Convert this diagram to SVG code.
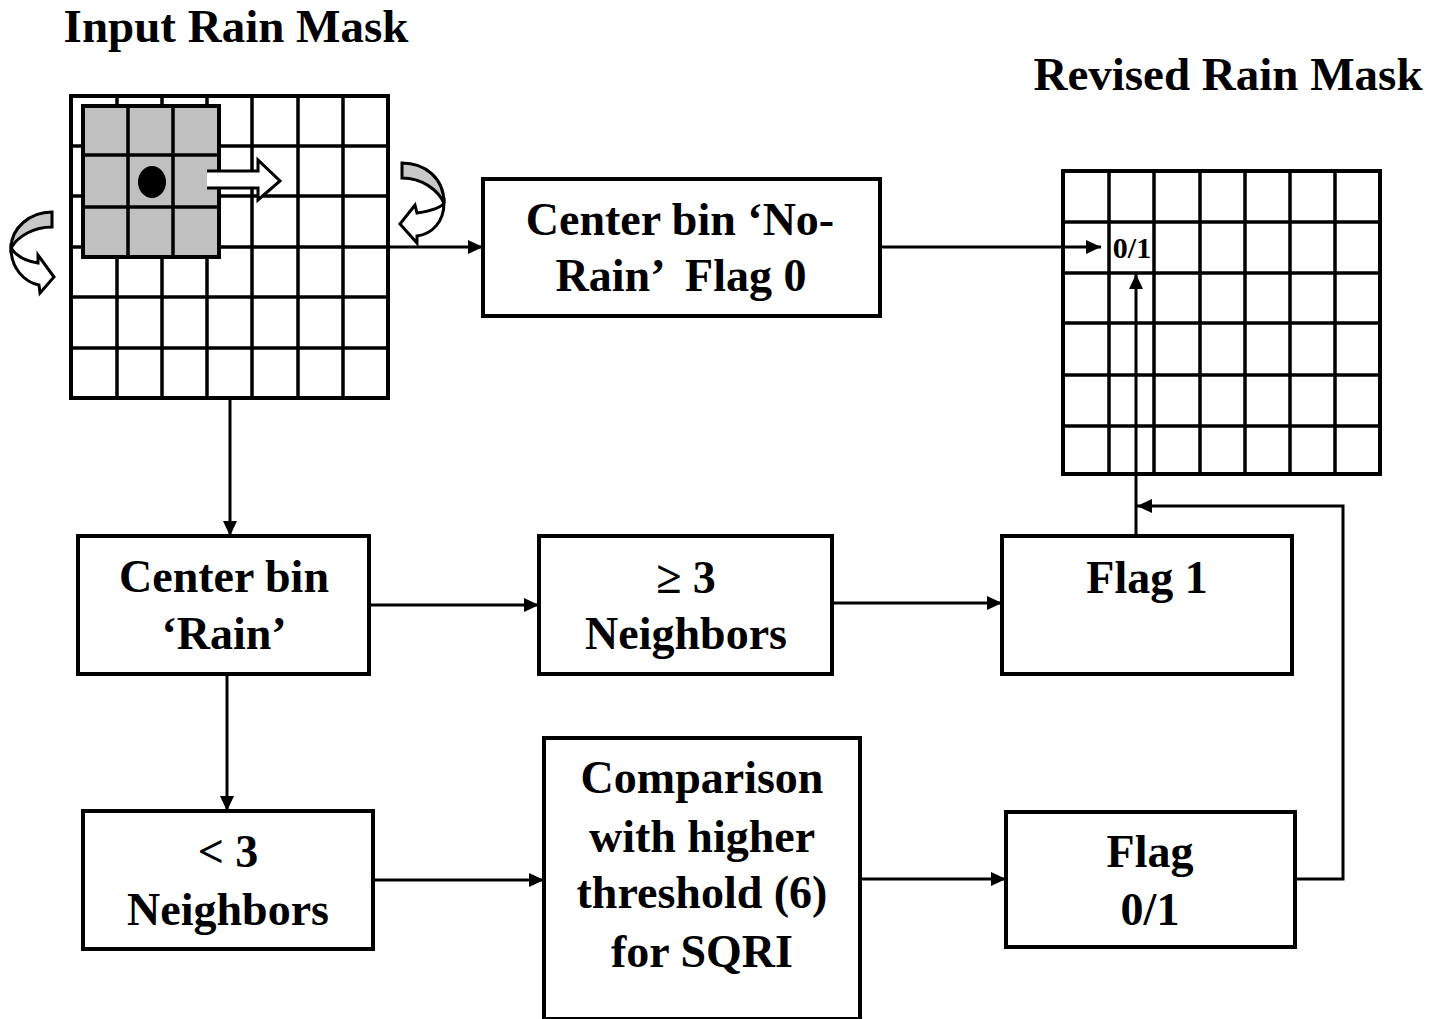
<svg xmlns="http://www.w3.org/2000/svg" width="1439" height="1019" viewBox="0 0 1439 1019">
  <defs>
    <style>
      .lbl { font-family: "Liberation Serif", "Times New Roman", serif; font-weight: bold; font-size: 46px; text-anchor: middle; fill: #000; white-space: pre; }
      .title { font-size: 47px; }
      .box { fill: #fff; stroke: #000; stroke-width: 4; }
      .grid { stroke: #000; stroke-width: 3.5; fill: none; }
      .frame { fill: #fff; stroke: #000; stroke-width: 4; }
      .wire { fill: none; stroke: #000; stroke-width: 3; }
      .curl { stroke: #000; stroke-width: 3; stroke-linejoin: miter; }
    </style>
    <marker id="ah" markerUnits="userSpaceOnUse" markerWidth="16" markerHeight="14" refX="15" refY="7" orient="auto">
      <path d="M0,0 L15,7 L0,14 Z" fill="#000"/>
    </marker>
  </defs>

  <rect width="1439" height="1019" fill="#fff"/>

  <!-- titles -->
  <text class="lbl title" x="236" y="42">Input Rain Mask</text>
  <text class="lbl title" x="1228" y="90">Revised Rain Mask</text>

  <!-- input mask: 7x6 grid with sliding 3x3 window -->
  <g id="input-mask">
    <rect class="frame" x="71" y="96" width="317" height="302"/>
    <path class="grid" d="M117,96V398 M162,96V398 M207,96V398 M252,96V398 M298,96V398 M343,96V398
                          M71,146H388 M71,196H388 M71,247H388 M71,297H388 M71,348H388"/>
    <rect x="83" y="106" width="136" height="151" fill="#c0c0c0" stroke="#000" stroke-width="4"/>
    <path class="grid" d="M128,106V257 M173,106V257 M83,155H219 M83,207H219"/>
    <ellipse cx="152" cy="182" rx="14" ry="16" fill="#000"/>
    <!-- block arrow: window moves right -->
    <path d="M207,171 L258,171 L258,160 L280,181 L258,200 L258,188 L207,188 Z" fill="#fff"/>
    <path d="M207,171 L258,171 L258,160 L280,181 L258,200 L258,188 L207,188" fill="none" stroke="#000" stroke-width="3"/>
    <!-- curled arrow, right side -->
    <path class="curl" fill="#fff" d="M444,203 C444,222 432,234 417,236 L417,243 L400,224 L415,205 L417,213 C430,211 441,208 444,203 Z"/>
    <path class="curl" fill="#c8c8c8" d="M402,163 C425,163 444,178 444,203 C438,190 422,178 402,178 Z"/>
    <!-- curled arrow, left side -->
    <path class="curl" fill="#fff" d="M11,248 C11,268 24,282 39,285 L40,293 L54,277 L38,255 L38,263 C26,261 16,256 11,248 Z"/>
    <path class="curl" fill="#c8c8c8" d="M52,212 C30,212 11,228 11,248 C18,236 34,227 52,227 Z"/>
  </g>

  <!-- revised mask: 7x6 grid -->
  <g id="revised-mask">
    <rect class="frame" x="1063" y="171" width="317" height="303"/>
    <path class="grid" d="M1109,171V474 M1154,171V474 M1200,171V474 M1245,171V474 M1290,171V474 M1335,171V474
                          M1063,222H1380 M1063,273H1380 M1063,323H1380 M1063,375H1380 M1063,426H1380"/>
    <text class="lbl" x="1132" y="258" style="font-size:30px">0/1</text>
  </g>

  <!-- process boxes -->
  <g id="no-rain">
    <rect class="box" x="483" y="179" width="397" height="137"/>
    <text class="lbl" x="680" y="235">Center bin ‘No-</text>
    <text class="lbl" x="681" y="291">Rain’  Flag 0</text>
  </g>
  <g id="rain">
    <rect class="box" x="78" y="536" width="291" height="138"/>
    <text class="lbl" x="224" y="592">Center bin</text>
    <text class="lbl" x="224" y="649">‘Rain’</text>
  </g>
  <g id="ge3">
    <rect class="box" x="539" y="536" width="293" height="138"/>
    <text class="lbl" x="686" y="593">≥ 3</text>
    <text class="lbl" x="686" y="649">Neighbors</text>
  </g>
  <g id="flag1">
    <rect class="box" x="1002" y="536" width="290" height="138"/>
    <text class="lbl" x="1147" y="593">Flag 1</text>
  </g>
  <g id="lt3">
    <rect class="box" x="83" y="811" width="290" height="138"/>
    <text class="lbl" x="228" y="867">&lt; 3</text>
    <text class="lbl" x="228" y="925">Neighbors</text>
  </g>
  <g id="compare">
    <rect class="box" x="544" y="738" width="316" height="281"/>
    <text class="lbl" x="702" y="793">Comparison</text>
    <text class="lbl" x="702" y="852">with higher</text>
    <text class="lbl" x="702" y="908">threshold (6)</text>
    <text class="lbl" x="702" y="967">for SQRI</text>
  </g>
  <g id="flag01">
    <rect class="box" x="1006" y="812" width="289" height="135"/>
    <text class="lbl" x="1150" y="867">Flag</text>
    <text class="lbl" x="1150" y="925">0/1</text>
  </g>

  <!-- connectors -->
  <g id="connectors">
    <path class="wire" d="M388,247 H483" marker-end="url(#ah)"/>
    <path class="wire" d="M880,247 H1101" marker-end="url(#ah)"/>
    <path class="wire" d="M230,398 V536" marker-end="url(#ah)"/>
    <path class="wire" d="M369,605 H539" marker-end="url(#ah)"/>
    <path class="wire" d="M832,603 H1002" marker-end="url(#ah)"/>
    <path class="wire" d="M227,674 V811" marker-end="url(#ah)"/>
    <path class="wire" d="M373,880 H544" marker-end="url(#ah)"/>
    <path class="wire" d="M860,879 H1006" marker-end="url(#ah)"/>
    <path class="wire" d="M1136,536 V274" marker-end="url(#ah)"/>
    <path class="wire" d="M1295,879 H1343 V506 H1137" marker-end="url(#ah)"/>
  </g>
</svg>
